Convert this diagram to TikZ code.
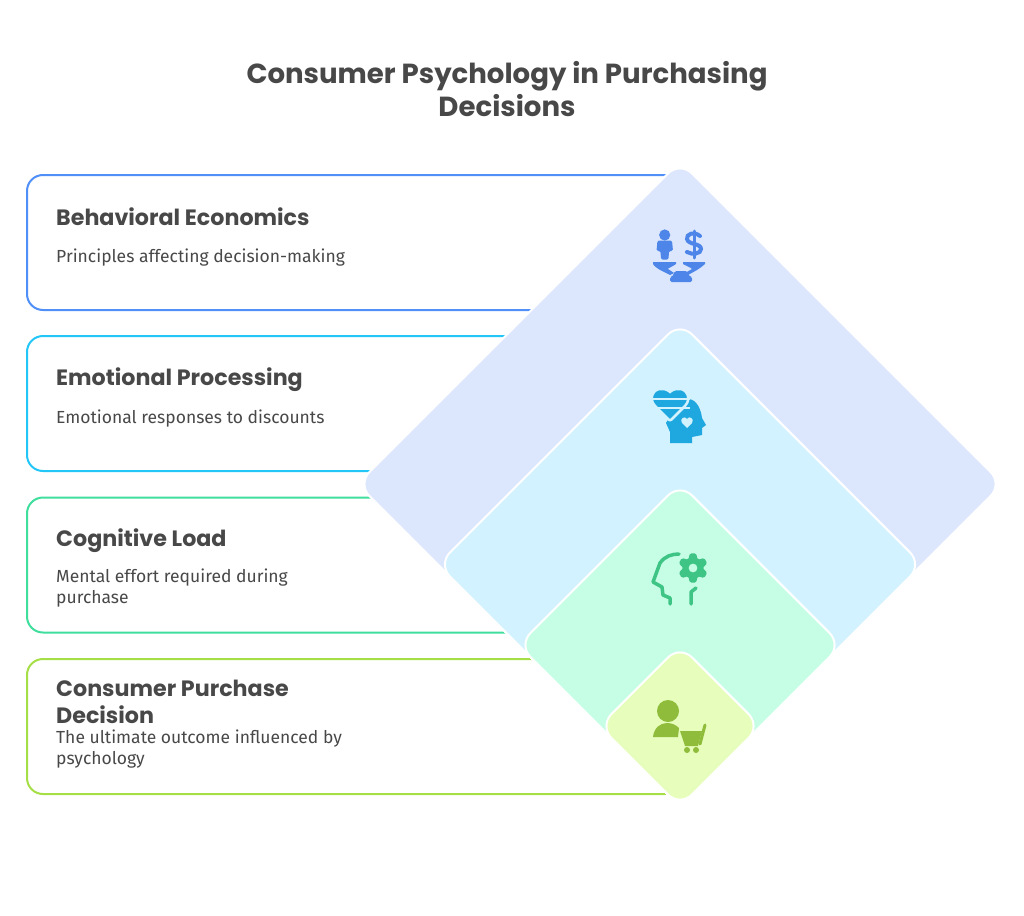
\documentclass[tikz,border=0pt]{standalone}
\usepackage{xcolor}
\usepackage{fontspec}
\setmainfont{Fira Sans}
\newfontfamily\headfont{Poppins}
\usetikzlibrary{shapes.geometric}
\definecolor{inkgray}{HTML}{484848}
\definecolor{econline}{HTML}{4F8FF7}
\definecolor{emoline}{HTML}{22C6F7}
\definecolor{cogline}{HTML}{3FDE9C}
\definecolor{buyline}{HTML}{A6DE45}
\definecolor{econfill}{HTML}{DCE7FE}
\definecolor{emofill}{HTML}{D1F2FE}
\definecolor{cogfill}{HTML}{C6FDE5}
\definecolor{buyfill}{HTML}{E6FDBB}
\definecolor{econicon}{HTML}{4D86E8}
\definecolor{emoicon}{HTML}{1FA8DF}
\definecolor{cogicon}{HTML}{3EC585}
\definecolor{buyicon}{HTML}{8FBC3A}
\tikzset{
  card/.style={draw=#1, line width=2pt, rounded corners=16pt, minimum width=653pt, minimum height=135pt, inner sep=0pt},
  gem/.style={diamond, aspect=1, draw=white, line width=2pt, fill=#1, rounded corners=17pt, inner sep=0pt},
  headtext/.style={anchor=west, inner sep=0pt, align=left, text=inkgray, font=\headfont\fontsize{22.2}{27}\selectfont\bfseries},
  bodytext/.style={anchor=west, inner sep=0pt, align=left, text=inkgray, font=\fontsize{17.5}{21}\selectfont},
}
\begin{document}
\begin{tikzpicture}[x=1pt, y=-1pt]
    \useasboundingbox (0, 0) rectangle (1024, 915);
    \node[inner sep=0pt, align=center, text=inkgray, font=\headfont\fontsize{27.6}{33}\selectfont\bfseries] at (507, 89) (title) {Consumer Psychology in Purchasing\\Decisions};
    \node[card=econline] at (353.5, 242.5) (econcard) {};
    \node[card=emoline] at (353.5, 403.5) (emocard) {};
    \node[card=cogline] at (353.5, 565) (cogcard) {};
    \node[card=buyline] at (353.5, 726.5) (buycard) {};
    \node[gem=econfill, minimum width=646pt, minimum height=646pt] at (680, 484) (econgem) {};
    \node[gem=emofill, minimum width=485pt, minimum height=485pt] at (680, 564.5) (emogem) {};
    \node[gem=cogfill, minimum width=324pt, minimum height=324pt] at (680, 645) (coggem) {};
    \node[gem=buyfill, minimum width=162pt, minimum height=162pt] at (680, 726) (buygem) {};
    \node[headtext] at (56, 216.5) (econhead) {Behavioral Economics};
    \node[bodytext] at (56, 258) (econbody) {Principles affecting decision-making};
    \node[headtext] at (56, 380) (emohead) {Emotional Processing};
    \node[bodytext] at (56, 419) (emobody) {Emotional responses to discounts};
    \node[headtext] at (56, 541) (coghead) {Cognitive Load};
    \node[bodytext] at (56, 588) (cogbody) {Mental effort required during\\purchase};
    \node[headtext] at (56, 702) (buyhead) {Consumer Purchase\\Decision};
    \node[bodytext] at (56, 749.5) (buybody) {The ultimate outcome influenced by\\psychology};
    % scale and dollar
    \fill[econicon] (664.7, 235) circle (5.6);
    \fill[econicon, rounded corners=1.5pt] (656.5, 251) -- (657.5, 240.5) -- (672, 240.5) -- (673, 251) -- (669, 251) -- (668.5, 259.5) -- (661, 259.5) -- (660.5, 251) -- cycle;
    \draw[econicon, line width=4pt, line cap=round] (700, 236) .. controls (694, 231) and (686, 234) .. (687, 239) .. controls (688, 245) and (701, 243) .. (701, 249) .. controls (701, 254) and (692, 255) .. (687, 252);
    \draw[econicon, line width=3pt, line cap=round] (694, 231) -- (694, 258);
    \fill[econicon] (653, 262) -- (676, 262) -- (676, 264) .. controls (672, 267) and (668, 268) .. (668, 269) -- (674, 273) -- (670, 275) -- (660, 270) .. controls (657, 268) and (654, 266) .. (653, 264) -- cycle;
    \fill[econicon] (683, 262) -- (705, 262) -- (705, 264) .. controls (703, 266) and (700, 268) .. (697, 270) -- (688, 275) -- (685, 273) -- (692, 269) .. controls (690, 267) and (686, 266) .. (683, 264) -- cycle;
    \fill[econicon, rounded corners=1.5pt] (675, 271) -- (687, 271) -- (690, 277) -- (692, 277) -- (692, 282) -- (670, 282) -- (670, 277) -- (672, 277) -- cycle;
    % heart and head
    \fill[emoicon] (666, 423) -- (680, 399) .. controls (684, 398) and (686, 398) .. (688, 399) .. controls (697, 399) and (701, 410) .. (702, 418) -- (706, 425) -- (702, 428) -- (702, 435) -- (692, 437) -- (692, 443) -- (670, 443) -- (670, 432) -- cycle;
    \draw[emofill, fill=emoicon, line width=2.5pt, rounded corners=2pt] (670, 421) -- (656, 407) .. controls (648, 398) and (654, 389) .. (662, 389) .. controls (666, 389) and (669, 391) .. (670, 393) .. controls (671, 391) and (674, 389) .. (678, 389) .. controls (686, 389) and (692, 398) .. (684, 407) -- cycle;
    \draw[emofill, line width=2pt] (650, 398.5) -- (690, 398.5) (650, 408) -- (690, 408);
    \fill[emofill] (687, 428) -- (682, 423) .. controls (679, 419) and (685, 415) .. (687, 419) .. controls (689, 415) and (695, 419) .. (692, 423) -- cycle;
    % head and gear
    \draw[cogicon, line width=3.5pt, line cap=round, line join=round] (679, 554) .. controls (672, 554) and (665, 556) .. (660, 563) -- (653, 582) -- (662, 587) -- (663, 595) -- (670, 598) -- (670, 604);
    \draw[cogicon, line width=3.5pt, line cap=round, line join=round] (696, 588) -- (691, 592) -- (691, 604);
    \fill[cogicon, even odd rule, shift={(693, 568)}, rounded corners=1.5pt] (78:15) -- (102:15) -- (120:9.5) -- (138:15) -- (162:15) -- (180:9.5) -- (198:15) -- (222:15) -- (240:9.5) -- (258:15) -- (282:15) -- (300:9.5) -- (318:15) -- (342:15) -- (0:9.5) -- (18:15) -- (42:15) -- (60:9.5) -- cycle (0, 0) circle (4.5);
    % person and cart
    \fill[buyicon] (668, 711) circle (11);
    \fill[buyicon] (653, 737) .. controls (654, 728) and (660, 723) .. (667, 723) .. controls (672, 723) and (676, 725) .. (679, 728) -- (678, 737) -- cycle;
    \fill[buyicon] (680, 731) -- (702, 731) -- (698, 746) -- (685, 746) -- cycle;
    \draw[buyicon, line width=3pt, line cap=round] (705, 725) -- (700, 744);
    \fill[buyicon] (687, 750) circle (3) (696, 750) circle (3);
\end{tikzpicture}
\end{document}
